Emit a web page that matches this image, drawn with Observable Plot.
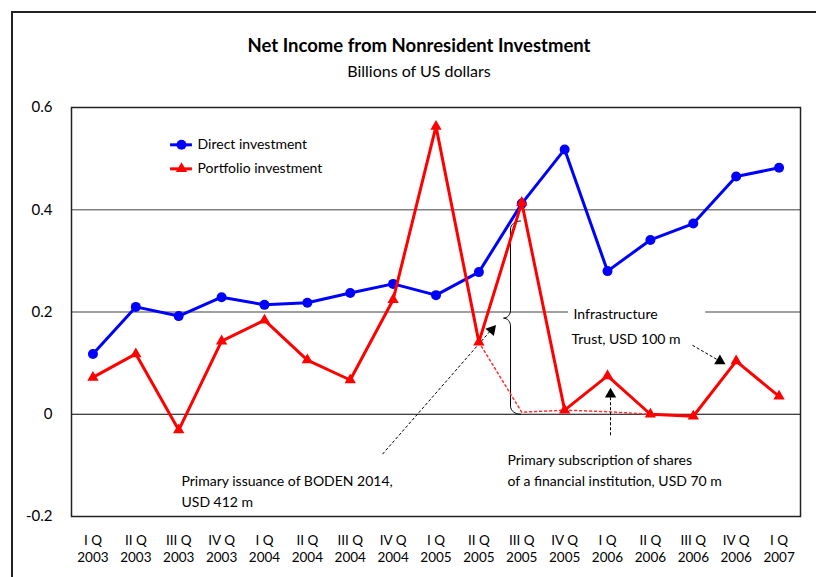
<!DOCTYPE html>
<html><head><meta charset="utf-8">
<script src="https://cdn.jsdelivr.net/npm/d3@7"></script>
<script src="https://cdn.jsdelivr.net/npm/@observablehq/plot@0.6"></script>
<style>
body{margin:0;background:#fff;}
#wrap{position:relative;width:816px;height:577px;overflow:hidden;font-family:Lato,sans-serif;color:#000;}
#frame{position:absolute;left:11px;top:11px;width:830px;height:600px;border-left:2px solid #222;border-top:2px solid #222;}
#title{position:absolute;left:22px;width:794px;top:34px;text-align:center;font-weight:bold;font-size:18.5px;line-height:22px;}
#subtitle{position:absolute;left:22px;width:794px;top:61px;text-align:center;font-size:16px;line-height:20px;}
#chart{position:absolute;left:0;top:0;}
</style></head>
<body>
<div id="wrap">
  <div id="frame"></div>
  <div id="title">Net Income from Nonresident Investment</div>
  <div id="subtitle">Billions of US dollars</div>
  <div id="chart"></div>
</div>
<script>
const periods = ["I Q\n2003","II Q\n2003","III Q\n2003","IV Q\n2003","I Q\n2004","II Q\n2004","III Q\n2004","IV Q\n2004","I Q\n2005","II Q\n2005","III Q\n2005","IV Q\n2005","I Q\n2006","II Q\n2006","III Q\n2006","IV Q\n2006","I Q\n2007"];
const direct    = [0.118,0.210,0.192,0.229,0.214,0.218,0.237,0.255,0.233,0.278,0.412,0.518,0.280,0.341,0.373,0.465,0.482];
const portfolio = [0.072,0.118,-0.031,0.143,0.184,0.106,0.067,0.224,0.563,0.141,0.414,0.008,0.075,0.000,-0.004,0.104,0.035];
const adjustedIdx = [9,10,11,12,13];
const adjustedPortfolio = [0.141,0.004,0.008,0.005,0.000];
const yTicks = [-0.2,0,0.2,0.4,0.6];
const yTickLabels = ["-0.2","0","0.2","0.4","0.6"];
const seriesNames = ["Direct investment","Portfolio investment"];

// annotations (data units: x = quarter index, y = billions USD)
const notes = [
  {x:2.065, y:-0.148, text:"Primary issuance of BODEN 2014,\nUSD 412 m"},
  {x:9.667, y:-0.106, text:"Primary subscription of shares\nof a financial institution, USD 70 m"},
  {x:11.207, y:0.200, text:"Infrastructure"},
  {x:11.16, y:0.151, text:"Trust, USD 100 m"}
];
const arrows = [
  {x1:6.753, y1:-0.078, x2:9.34, y2:0.170, hx:9.30, hy:0.165, angle:41},
  {x1:13.98, y1:0.135, x2:14.70, y2:0.100, hx:14.62, hy:0.104, angle:120},
  {x1:12.07, y1:-0.041, x2:12.07, y2:0.046, hx:12.07, hy:0.039, angle:0}
];
const gapBox = {x1:11.09, x2:14.29, y1:0.19, y2:0.21};
const brace = {x:9.738, top:0.378, tip:0.188, bottom:0.0};

const W = 816, H = 577, mT = 107, mB = 61, mL = 71, mR = 16;
const pxX = (W - mL - mR) / periods.length;
const pxY = (H - mT - mB) / 0.8;
// build brace path (pixel offsets -> data units)
function bracePoints(b) {
  const pts = [];
  const topPx = 0, tipPx = (b.top - b.tip) * pxY, botPx = (b.top - b.bottom) * pxY;
  const push = (dx, dy) => pts.push({x: b.x + dx / pxX, y: b.top - dy / pxY});
  const N = 8;
  for (let k = 0; k <= N; k++) { const t = k / N * Math.PI / 2; push(10 - 10 * Math.sin(t), topPx + 8 - 8 * Math.cos(t)); }
  for (let k = 0; k <= N; k++) { const t = k / N * Math.PI / 2; push(-7 + 7 * Math.cos(t), tipPx - 8 + 8 * Math.sin(t)); }
  for (let k = 0; k <= N; k++) { const t = k / N * Math.PI / 2; push(-7 + 7 * Math.sin(t), tipPx + 8 - 8 * Math.cos(t)); }
  for (let k = 0; k <= N; k++) { const t = k / N * Math.PI / 2; push(10 - 10 * Math.cos(t), botPx - 8 + 8 * Math.sin(t)); }
  return pts;
}

const idx = d3.range(periods.length);
const plot = Plot.plot({
  width: W, height: H, marginTop: mT, marginBottom: mB, marginLeft: mL, marginRight: mR,
  style: {fontFamily: "Lato, sans-serif", background: "transparent", color: "#000"},
  x: {domain: [-0.5, periods.length - 0.5]},
  y: {domain: [-0.2, 0.6]},
  marks: [
    Plot.ruleY([0.2, 0.4], {stroke: "#808080", strokeWidth: 1.5}),
    Plot.rect([gapBox], {x1: "x1", x2: "x2", y1: "y1", y2: "y2", fill: "#fff"}),
    Plot.ruleY([0], {stroke: "#000", strokeWidth: 1.2}),
    Plot.frame({stroke: "#222", strokeWidth: 1.5}),
    Plot.axisY({ticks: yTicks, tickSize: 0, tickPadding: 19, fontSize: 15, label: null,
      tickFormat: d => yTickLabels[yTicks.indexOf(d)]}),
    Plot.axisX({ticks: idx, tickSize: 0, tickPadding: 16, fontSize: 13.5, lineHeight: 1.27, label: null,
      tickFormat: i => periods[i]}),
    // brace
    Plot.line(bracePoints(brace), {x: "x", y: "y", stroke: "#000", strokeWidth: 1, curve: "linear"}),
    // adjusted portfolio (dotted)
    Plot.line(adjustedIdx, {x: (d) => d, y: (d, i) => adjustedPortfolio[i], stroke: "#ff3030", strokeWidth: 1.5, strokeDasharray: "2,3"}),
    // arrows
    Plot.link(arrows, {x1: "x1", y1: "y1", x2: "x2", y2: "y2", stroke: "#000", strokeWidth: 1, strokeDasharray: "3,2"}),
    Plot.dot(arrows, {x: "hx", y: "hy", symbol: "triangle", r: 4.2, fill: "#000", stroke: "none", rotate: "angle"}),
    // series
    Plot.line(idx, {x: d => d, y: d => direct[d], stroke: "#0000ff", strokeWidth: 3}),
    Plot.dot(idx, {x: d => d, y: d => direct[d], r: 5, fill: "#0000ff", stroke: "none"}),
    Plot.line(idx, {x: d => d, y: d => portfolio[d], stroke: "#ff0000", strokeWidth: 3}),
    Plot.dot(idx, {x: d => d, y: d => portfolio[d], symbol: "triangle", r: 4.2, fill: "#ff0000", stroke: "none"}),
    // legend
    Plot.ruleY([0.527], {x1: 1.81, x2: 2.32, stroke: "#0000ff", strokeWidth: 3}),
    Plot.dot([0.527], {x: 2.065, y: d => d, r: 5, fill: "#0000ff", stroke: "none"}),
    Plot.ruleY([0.480], {x1: 1.81, x2: 2.32, stroke: "#ff0000", strokeWidth: 3}),
    Plot.dot([0.480], {x: 2.065, y: d => d, symbol: "triangle", r: 4.2, fill: "#ff0000", stroke: "none"}),
    Plot.text([0.527, 0.480], {x: 2.44, y: d => d, text: (d, i) => seriesNames[i], textAnchor: "start", fontSize: 14, fill: "#000"}),
    // annotations
    Plot.text(notes, {x: "x", y: "y", text: "text", textAnchor: "start", lineAnchor: "middle", lineHeight: 1.5, fontSize: 14, fill: "#000"})
  ]
});
document.getElementById("chart").appendChild(plot);
</script>
</body></html>
